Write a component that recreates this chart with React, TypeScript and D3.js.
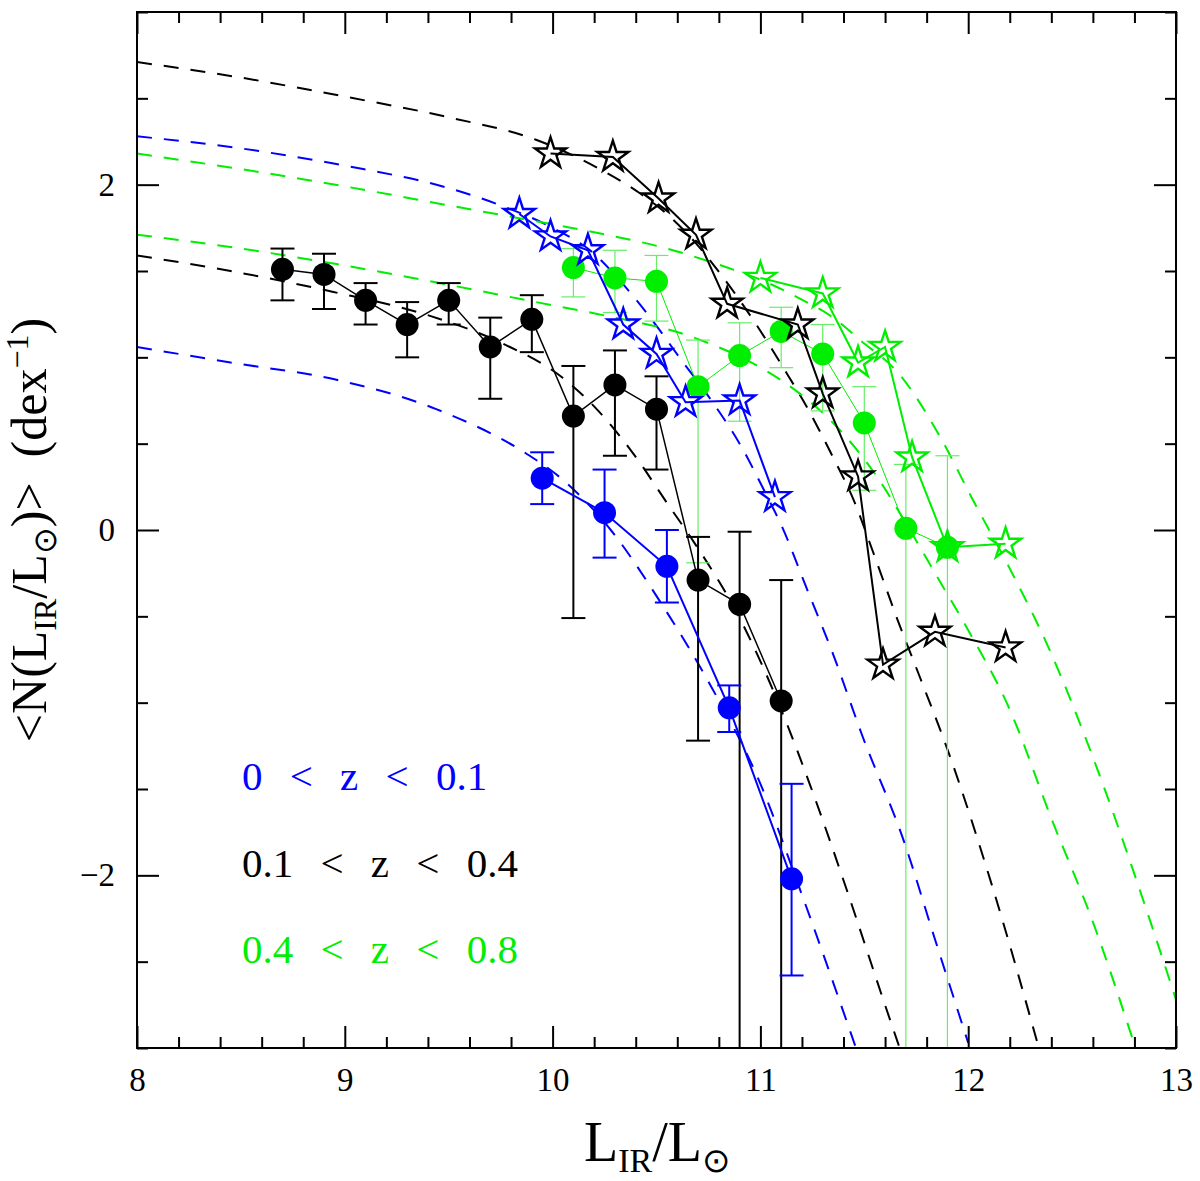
import React, { useEffect, useRef } from 'react';
import * as d3 from 'd3';

type Pt = [number, number];

interface ErrPoint {
  x: number;
  y: number;
  lo: number;
  hi: number;
}

// 0 < z < 0.1
const blueCircles: ErrPoint[] = [
  { x: 9.95, y: 0.3, lo: 0.15, hi: 0.45 },
  { x: 10.25, y: 0.1, lo: -0.16, hi: 0.35 },
  { x: 10.55, y: -0.21, lo: -0.42, hi: 0.0 },
  { x: 10.85, y: -1.03, lo: -1.17, hi: -0.9 },
  { x: 11.15, y: -2.02, lo: -2.58, hi: -1.47 },
];
const blueStars: Pt[] = [
  [9.84, 1.83], [9.99, 1.7], [10.17, 1.62], [10.34, 1.19],
  [10.5, 1.02], [10.64, 0.74], [10.9, 0.75], [11.07, 0.19],
];

// 0.1 < z < 0.4
const blackCircles: ErrPoint[] = [
  { x: 8.7, y: 1.51, lo: 1.33, hi: 1.63 },
  { x: 8.9, y: 1.48, lo: 1.28, hi: 1.6 },
  { x: 9.1, y: 1.33, lo: 1.19, hi: 1.43 },
  { x: 9.3, y: 1.19, lo: 1.0, hi: 1.32 },
  { x: 9.5, y: 1.33, lo: 1.19, hi: 1.43 },
  { x: 9.7, y: 1.06, lo: 0.76, hi: 1.23 },
  { x: 9.9, y: 1.22, lo: 1.03, hi: 1.36 },
  { x: 10.1, y: 0.66, lo: -0.51, hi: 0.95 },
  { x: 10.3, y: 0.84, lo: 0.43, hi: 1.04 },
  { x: 10.5, y: 0.7, lo: 0.35, hi: 0.89 },
  { x: 10.7, y: -0.29, lo: -1.22, hi: -0.04 },
  { x: 10.9, y: -0.43, lo: -3.5, hi: -0.01 },
  { x: 11.1, y: -0.99, lo: -3.5, hi: -0.29 },
];
const blackStars: Pt[] = [
  [9.99, 2.18], [10.29, 2.16], [10.51, 1.92], [10.69, 1.71], [10.84, 1.31], [11.18, 1.19],
  [11.3, 0.79], [11.47, 0.31], [11.59, -0.78], [11.84, -0.59], [12.18, -0.68],
];

// 0.4 < z < 0.8
const greenCircles: ErrPoint[] = [
  { x: 10.1, y: 1.52, lo: 1.35, hi: 1.63 },
  { x: 10.3, y: 1.46, lo: 1.26, hi: 1.62 },
  { x: 10.5, y: 1.44, lo: 1.21, hi: 1.59 },
  { x: 10.7, y: 0.83, lo: -0.19, hi: 1.1 },
  { x: 10.9, y: 1.01, lo: 0.63, hi: 1.2 },
  { x: 11.1, y: 1.15, lo: 0.94, hi: 1.29 },
  { x: 11.3, y: 1.02, lo: 0.69, hi: 1.19 },
  { x: 11.5, y: 0.62, lo: 0.23, hi: 0.83 },
  { x: 11.7, y: 0.01, lo: -3.5, hi: 0.38 },
  { x: 11.9, y: -0.1, lo: -3.5, hi: 0.43 },
];
const greenStars: Pt[] = [
  [11.0, 1.46], [11.3, 1.37], [11.47, 0.97], [11.6, 1.06],
  [11.73, 0.42], [11.9, -0.1], [12.18, -0.08],
];

// fitted curves (dashed)
const blueCircleFit: Pt[] = [
  [8, 1.06], [8.45, 0.97], [8.96, 0.87], [9.44, 0.7], [9.89, 0.43], [10.02, 0.32],
  [10.28, 0.0], [10.52, -0.42], [10.76, -0.9], [11.0, -1.47], [11.19, -2.08], [11.46, -3.0],
];
const blueStarFit: Pt[] = [
  [8, 2.28], [8.5, 2.21], [9, 2.11], [9.5, 1.98], [9.75, 1.88], [10.0, 1.75], [10.2, 1.6],
  [10.32, 1.45], [10.47, 1.23], [10.61, 1.0], [10.77, 0.74], [10.9, 0.5], [11.03, 0.2],
  [11.1, 0.03], [11.22, -0.33], [11.35, -0.72], [11.49, -1.19], [11.69, -1.8],
  [11.84, -2.37], [12.0, -2.97],
];
const blackCircleFit: Pt[] = [
  [8, 1.59], [8.45, 1.5], [8.94, 1.38], [9.41, 1.24], [9.76, 1.08], [10.05, 0.88],
  [10.22, 0.69], [10.39, 0.44], [10.56, 0.14], [10.68, -0.07], [10.9, -0.51],
  [11.12, -1.1], [11.24, -1.48], [11.42, -2.1], [11.58, -2.68], [11.67, -3.0],
];
const blackStarFit: Pt[] = [
  [8, 2.71], [8.5, 2.62], [9, 2.51], [9.5, 2.39], [9.92, 2.26], [10.18, 2.12], [10.42, 1.95],
  [10.55, 1.83], [10.69, 1.66], [10.81, 1.48], [10.98, 1.19], [11.11, 0.94], [11.22, 0.72],
  [11.35, 0.42], [11.45, 0.17], [11.54, -0.12], [11.66, -0.52], [11.77, -0.86],
  [11.9, -1.27], [12.12, -2.08], [12.34, -3.0],
];
const greenCircleFit: Pt[] = [
  [8, 1.71], [8.5, 1.63], [8.96, 1.54], [9.5, 1.42], [9.92, 1.32], [10.22, 1.25],
  [10.69, 1.11], [11.03, 0.92], [11.19, 0.79], [11.35, 0.62], [11.56, 0.31], [11.7, 0.04],
  [11.85, -0.27], [12.0, -0.58], [12.2, -1.04], [12.4, -1.67], [12.6, -2.27], [12.8, -2.98],
];
const greenStarFit: Pt[] = [
  [8, 2.18], [8.5, 2.09], [9, 1.99], [9.5, 1.88], [10, 1.77], [10.26, 1.71], [10.55, 1.63],
  [10.84, 1.52], [11.0, 1.45], [11.19, 1.34], [11.35, 1.23], [11.48, 1.1], [11.67, 0.9],
  [11.86, 0.55], [12.02, 0.18], [12.19, -0.2], [12.39, -0.69], [12.62, -1.38],
  [12.83, -2.1], [13.0, -2.72],
];

const xMajor = [8, 9, 10, 11, 12, 13];
const yMajor = [-2, 0, 2];
const legendLabels = ['0 < z < 0.1', '0.1 < z < 0.4', '0.4 < z < 0.8'];

const BLUE = '#0000ff';
const BLACK = '#000000';
const GREEN = '#00ee00';
const LIGHT_GREEN = '#66ee66';

const W = 1200;
const H = 1181;

const App: React.FC = () => {
  const svgRef = useRef<SVGSVGElement>(null);

  useEffect(() => {
    if (!svgRef.current) return;
    const svg = d3.select(svgRef.current);
    svg.selectAll('*').remove();

    const margin = { top: 12, right: 24, bottom: 133, left: 137 };
    const x = d3.scaleLinear().domain([8, 13]).range([margin.left, W - margin.right]);
    const y = d3.scaleLinear().domain([-3, 3]).range([H - margin.bottom, margin.top]);
    const x0 = x.range()[0], x1 = x.range()[1];
    const yTop = y.range()[1], yBot = y.range()[0];

    svg.append('rect').attr('width', W).attr('height', H).attr('fill', '#fff');

    svg.append('defs')
      .append('clipPath')
      .attr('id', 'plot-clip')
      .append('rect')
      .attr('x', x0)
      .attr('y', yTop)
      .attr('width', x1 - x0)
      .attr('height', yBot - yTop);

    const plot = svg.append('g').attr('clip-path', 'url(#plot-clip)');

    // dashed fits
    const curve = d3.line<Pt>().x(d => x(d[0])).y(d => y(d[1])).curve(d3.curveMonotoneX);
    const fits: [Pt[], string][] = [
      [blueCircleFit, BLUE], [blueStarFit, BLUE],
      [blackCircleFit, BLACK], [blackStarFit, BLACK],
      [greenCircleFit, GREEN], [greenStarFit, GREEN],
    ];
    fits.forEach(([d, c]) => {
      plot.append('path')
        .datum(d)
        .attr('fill', 'none')
        .attr('stroke', c)
        .attr('stroke-width', 2)
        .attr('stroke-dasharray', '15 12')
        .attr('d', curve);
    });

    const line = d3.line<Pt>().x(d => x(d[0])).y(d => y(d[1]));

    const errorBars = (data: ErrPoint[], color: string, width: number) => {
      const g = plot.append('g').attr('stroke', color).attr('stroke-width', width);
      data.forEach(d => {
        g.append('line').attr('x1', x(d.x)).attr('x2', x(d.x)).attr('y1', y(d.lo)).attr('y2', y(d.hi));
        [d.lo, d.hi].forEach(v => {
          if (v < -3) return;
          g.append('line')
            .attr('x1', x(d.x) - 12).attr('x2', x(d.x) + 12)
            .attr('y1', y(v)).attr('y2', y(v));
        });
      });
    };

    const circles = (data: ErrPoint[], color: string, lineWidth: number) => {
      plot.append('path')
        .datum(data.map(d => [d.x, d.y] as Pt))
        .attr('fill', 'none')
        .attr('stroke', color)
        .attr('stroke-width', lineWidth)
        .attr('d', line);
      plot.append('g')
        .selectAll('circle')
        .data(data)
        .join('circle')
        .attr('cx', d => x(d.x))
        .attr('cy', d => y(d.y))
        .attr('r', 11.5)
        .attr('fill', color);
    };

    const star = d3.symbol().type(d3.symbolStar).size(300);
    const stars = (data: Pt[], color: string) => {
      plot.append('path')
        .datum(data)
        .attr('fill', 'none')
        .attr('stroke', color)
        .attr('stroke-width', 2)
        .attr('d', line);
      plot.append('g')
        .selectAll('path')
        .data(data)
        .join('path')
        .attr('transform', d => `translate(${x(d[0])},${y(d[1])})`)
        .attr('d', star() as string)
        .attr('fill', 'none')
        .attr('stroke', color)
        .attr('stroke-width', 2.4);
    };

    errorBars(greenCircles, LIGHT_GREEN, 1.2);
    errorBars(blackCircles, BLACK, 2);
    errorBars(blueCircles, BLUE, 2);

    circles(greenCircles, GREEN, 1);
    stars(greenStars, GREEN);
    circles(blackCircles, BLACK, 1.5);
    stars(blackStars, BLACK);
    circles(blueCircles, BLUE, 2);
    stars(blueStars, BLUE);

    // frame and ticks, all four sides, pointing inward
    const xMinor = d3.range(8, 13.001, 0.2).filter(v => Math.abs(v - Math.round(v)) > 1e-6);
    const yMinor = d3.range(-3, 3.001, 0.5).filter(v => Math.abs(v / 2 - Math.round(v / 2)) > 1e-6);

    const bottom = svg.append('g').attr('transform', `translate(0,${yBot})`);
    bottom.call(d3.axisBottom(x).tickValues(xMajor).tickSize(-22).tickPadding(20).tickFormat(d3.format('d')));
    bottom.append('g').call(d3.axisBottom(x).tickValues(xMinor).tickSize(-11).tickFormat(() => ''));
    const top = svg.append('g').attr('transform', `translate(0,${yTop})`);
    top.call(d3.axisTop(x).tickValues(xMajor).tickSize(-22).tickFormat(() => ''));
    top.append('g').call(d3.axisTop(x).tickValues(xMinor).tickSize(-11).tickFormat(() => ''));
    const left = svg.append('g').attr('transform', `translate(${x0},0)`);
    left.call(d3.axisLeft(y).tickValues(yMajor).tickSize(-22).tickPadding(22).tickFormat(d3.format('d')));
    left.append('g').call(d3.axisLeft(y).tickValues(yMinor).tickSize(-11).tickFormat(() => ''));
    const right = svg.append('g').attr('transform', `translate(${x1},0)`);
    right.call(d3.axisRight(y).tickValues(yMajor).tickSize(-22).tickFormat(() => ''));
    right.append('g').call(d3.axisRight(y).tickValues(yMinor).tickSize(-11).tickFormat(() => ''));

    svg.selectAll('.domain').remove();
    svg.selectAll('.tick line').attr('stroke', '#000').attr('stroke-width', 2);
    svg.selectAll('.tick text')
      .attr('font-family', '"Liberation Serif", serif')
      .attr('font-size', 33)
      .attr('fill', '#000');

    svg.append('rect')
      .attr('x', x0)
      .attr('y', yTop)
      .attr('width', x1 - x0)
      .attr('height', yBot - yTop)
      .attr('fill', 'none')
      .attr('stroke', '#000')
      .attr('stroke-width', 2);

    // axis titles
    const xt = svg.append('text')
      .attr('x', 657)
      .attr('y', 1161)
      .attr('text-anchor', 'middle')
      .attr('font-family', '"Liberation Serif", serif')
      .attr('font-size', 56)
      .attr('fill', '#000');
    xt.append('tspan').text('L');
    xt.append('tspan').attr('font-size', 34).attr('dy', 11).text('IR');
    xt.append('tspan').attr('dy', -11).text('/L');
    xt.append('tspan').attr('font-size', 34).attr('dy', 11).text('⊙');

    const yt = svg.append('text')
      .attr('transform', `translate(46,${(yTop + yBot) / 2}) rotate(-90)`)
      .attr('text-anchor', 'middle')
      .attr('font-family', '"Liberation Serif", serif')
      .attr('font-size', 50)
      .attr('fill', '#000');
    yt.append('tspan').text('<N(L');
    yt.append('tspan').attr('font-size', 32).attr('dy', 10).text('IR');
    yt.append('tspan').attr('dy', -10).text('/L');
    yt.append('tspan').attr('font-size', 32).attr('dy', 10).text('⊙');
    yt.append('tspan').attr('dy', -10).text(')>\u00a0\u00a0(dex');
    yt.append('tspan').attr('font-size', 32).attr('dy', -18).text('−1');
    yt.append('tspan').attr('dy', 18).text(')');

    // legend
    const legendColors = [BLUE, BLACK, GREEN];
    const legendBase = [790, 877, 963];
    legendLabels.forEach((label, i) => {
      svg.append('text')
        .attr('x', 242)
        .attr('y', legendBase[i])
        .attr('font-family', '"Liberation Serif", serif')
        .attr('font-size', 41)
        .attr('word-spacing', 17)
        .attr('fill', legendColors[i])
        .text(label);
    });
  }, []);

  return (
    <svg
      ref={svgRef}
      width={W}
      height={H}
      style={{ position: 'absolute', left: 0, top: 0, display: 'block' }}
    />
  );
};

export default App;
